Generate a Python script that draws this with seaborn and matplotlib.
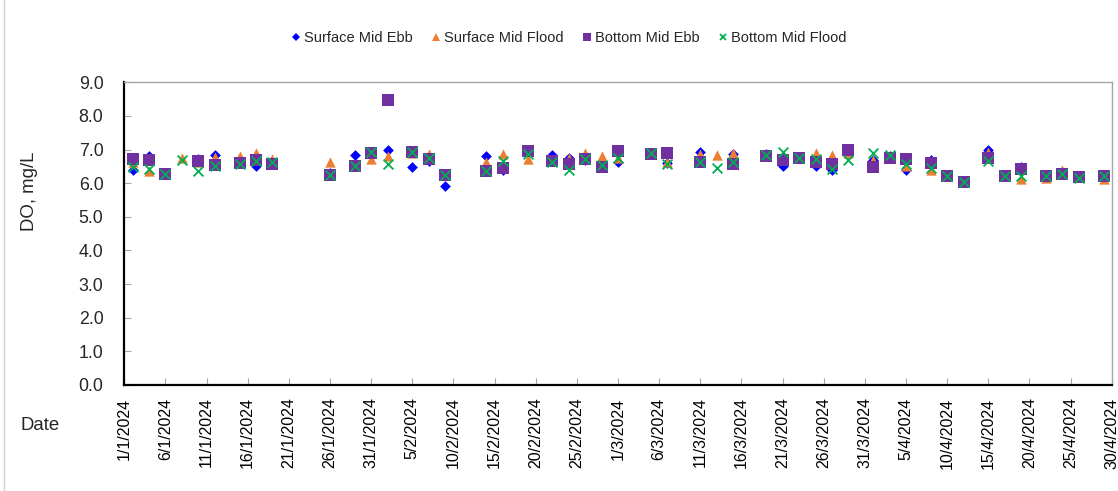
import matplotlib
matplotlib.use("Agg")
import matplotlib.pyplot as plt
from matplotlib.lines import Line2D
import numpy as np
import pandas as pd
import seaborn as sns

# Sampling dates (day/month/2024)
dates = [
    "2/1", "4/1", "6/1", "8/1", "10/1", "12/1", "15/1", "17/1", "19/1",
    "26/1", "29/1", "31/1", "2/2", "5/2", "7/2", "9/2", "14/2", "16/2",
    "19/2", "22/2", "24/2", "26/2", "28/2", "1/3", "5/3", "7/3", "11/3",
    "13/3", "15/3", "19/3", "21/3", "23/3", "25/3", "27/3", "29/3", "1/4",
    "3/4", "5/4", "8/4", "10/4", "12/4", "15/4", "17/4", "19/4", "22/4",
    "24/4", "26/4", "29/4",
]

# Dissolved oxygen, mg/L
surface_mid_ebb = [
    6.40, 6.80, 6.28, np.nan, 6.72, 6.84, 6.60, 6.52, 6.60,
    6.30, 6.84, 6.88, 7.00, 6.47, 6.65, 5.93, 6.82, 6.40,
    6.92, 6.84, 6.76, 6.68, 6.60, 6.62, 6.88, 6.60, 6.92,
    np.nan, 6.88, 6.88, 6.52, 6.75, 6.52, 6.38, 6.90, 6.68,
    6.80, 6.40, 6.68, 6.20, 6.03, 6.98, 6.22, 6.47, 6.20,
    6.26, 6.17, 6.20,
]
surface_mid_flood = [
    6.62, 6.36, 6.33, 6.74, 6.62, 6.78, 6.80, 6.90, 6.72,
    6.62, 6.50, 6.72, 6.80, 6.90, 6.86, 6.25, 6.64, 6.86,
    6.72, 6.70, 6.76, 6.90, 6.82, 6.74, 6.88, 6.64, 6.86,
    6.84, 6.90, 6.85, 6.70, 6.80, 6.90, 6.83, 6.90, 6.70,
    6.80, 6.50, 6.38, 6.22, 6.05, 6.94, 6.22, 6.12, 6.14,
    6.38, 6.18, 6.13,
]
bottom_mid_ebb = [
    6.72, 6.68, 6.27, np.nan, 6.65, 6.55, 6.60, 6.68, 6.57,
    6.23, 6.50, 6.90, 8.48, 6.93, 6.73, 6.24, 6.37, 6.44,
    6.96, 6.65, 6.57, 6.71, 6.47, 6.96, 6.86, 6.90, 6.63,
    np.nan, 6.57, 6.82, 6.68, 6.75, 6.63, 6.56, 6.98, 6.49,
    6.75, 6.73, 6.59, 6.22, 6.05, 6.76, 6.22, 6.41, 6.20,
    6.27, 6.17, 6.20,
]
bottom_mid_flood = [
    6.47, 6.42, 6.27, 6.68, 6.37, 6.52, 6.58, 6.66, 6.64,
    6.24, 6.51, 6.93, 6.56, 6.93, 6.74, 6.24, 6.37, 6.66,
    6.88, 6.63, 6.40, 6.73, 6.54, 6.74, 6.90, 6.57, 6.63,
    6.44, 6.63, 6.83, 6.94, 6.76, 6.73, 6.41, 6.70, 6.90,
    6.84, 6.56, 6.45, 6.22, 6.05, 6.66, 6.22, 6.22, 6.20,
    6.28, 6.15, 6.20,
]

series_names = ["Surface Mid Ebb", "Surface Mid Flood", "Bottom Mid Ebb", "Bottom Mid Flood"]
series_values = [surface_mid_ebb, surface_mid_flood, bottom_mid_ebb, bottom_mid_flood]
series_colors = ["#0000FF", "#ED7D31", "#7030A0", "#00B050"]
series_markers = ["D", "^", "s", "x"]
series_sizes = [30, 55, 64, 50]

y_ticks = [0, 1, 2, 3, 4, 5, 6, 7, 8, 9]

date_index = pd.to_datetime([d + "/2024" for d in dates], format="%d/%m/%Y")

sns.set_style("white")
plt.rcParams["font.family"] = ["Liberation Sans", "DejaVu Sans"]

fig = plt.figure(figsize=(11.18, 4.91), dpi=100)
ax = fig.add_axes([0.1112, 0.2159, 0.8832, 0.6165])

for name, vals, col, mk, sz in zip(series_names, series_values, series_colors,
                                   series_markers, series_sizes):
    df = pd.DataFrame({"Date": date_index, "DO": vals}).dropna()
    kw = dict(linewidth=1.3) if mk == "x" else dict(linewidth=0)
    sns.scatterplot(data=df, x="Date", y="DO", ax=ax, marker=mk, s=sz,
                    color=col, label=name, zorder=3, **kw)

start = pd.Timestamp("2024-01-01")
end = pd.Timestamp("2024-04-30")
ax.set_xlim(start, end)
ax.set_ylim(0, 9)

xt = pd.date_range(start, end, freq="5D")
ax.set_xticks(xt)
ax.set_xticklabels([f"{d.day}/{d.month}/{d.year}" for d in xt],
                   rotation=90, fontsize=11.5, color="#000000")
ax.set_yticks(y_ticks)
ax.set_yticklabels([f"{v:.1f}" for v in y_ticks], fontsize=12.8)

ax.tick_params(axis="x", direction="in", length=5, width=0.8, color="#A6A6A6",
               pad=9, bottom=True, top=False)
ax.tick_params(axis="y", direction="in", length=5, width=0.8, color="#A6A6A6",
               pad=15, left=True, right=False)

for side in ("left", "bottom"):
    ax.spines[side].set_color("#000000")
    ax.spines[side].set_linewidth(1.6)
for side in ("top", "right"):
    ax.spines[side].set_color("#A6A6A6")
    ax.spines[side].set_linewidth(1.0)

ax.set_xlabel("")
ax.set_ylabel("")
fig.text(30 / 1118, 1 - 191 / 491, "DO, mg/L", rotation=90, fontsize=13.4,
         ha="center", va="center")
fig.text(40 / 1118, 1 - 426 / 491, "Date", fontsize=13.4, ha="center", va="center")

ax.get_legend().remove()
handles = [Line2D([], [], linestyle="none", marker=m, color=c,
                  markersize=ms, markeredgewidth=(1.3 if m == "x" else 0))
           for m, c, ms in zip(series_markers, series_colors, [4.5, 5.5, 6, 5])]
fig.legend(handles, series_names, loc="center", bbox_to_anchor=(569 / 1118, 1 - 38 / 491),
           ncol=4, frameon=False, fontsize=10.5, handlelength=0.6,
           handletextpad=0.2, columnspacing=1.35)

# thin grey chart border on the left edge
fig.add_artist(Line2D([4 / 1118, 4 / 1118], [0, 1], transform=fig.transFigure,
                      color="#D0D0D0", linewidth=1))

fig.savefig("out.png", dpi=100)
